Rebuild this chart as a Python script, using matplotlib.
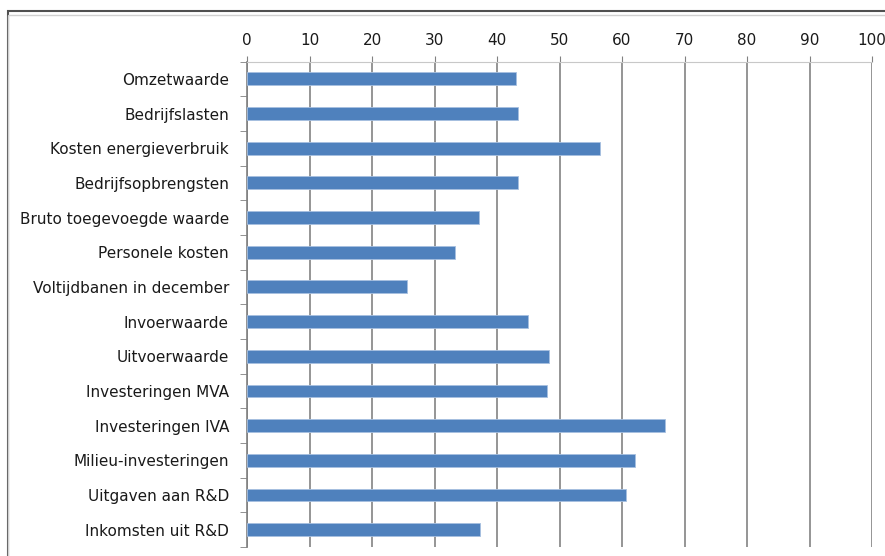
import matplotlib.pyplot as plt
import numpy as np
from matplotlib.patches import Rectangle

categories = ['Omzetwaarde', 'Bedrijfslasten', 'Kosten energieverbruik',
              'Bedrijfsopbrengsten', 'Bruto toegevoegde waarde', 'Personele kosten',
              'Voltijdbanen in december', 'Invoerwaarde', 'Uitvoerwaarde',
              'Investeringen MVA', 'Investeringen IVA', 'Milieu-investeringen',
              'Uitgaven aan R&D', 'Inkomsten uit R&D']
values = [43.0, 43.3, 56.5, 43.3, 37.1, 33.2, 25.6, 45.0, 48.3, 48.0, 66.8, 62.0, 60.6, 37.3]
xticks = list(range(0, 101, 10))

fig = plt.figure(figsize=(8.85, 5.56), dpi=100)
ax = fig.add_axes([247/885, 1-547/556, (872-247)/885, (547-61.5)/556])

y = np.arange(len(categories))
ax.barh(y, values, height=0.37, color='#4F81BD', edgecolor='#A7C0E0', linewidth=0.6, zorder=3)

ax.set_xlim(0, 100)
ax.set_ylim(len(categories)-0.5, -0.5)
ax.set_xticks(xticks)
ax.xaxis.tick_top()
ax.tick_params(axis='x', direction='out', length=4, color='#808080', labelsize=11,
               labelcolor='#1a1a1a', pad=6)
ax.set_yticks(y)
ax.set_yticklabels(categories)
ax.tick_params(axis='y', which='major', length=0, labelsize=11, labelcolor='#1a1a1a', pad=13)
ax.set_yticks(np.arange(-0.5, len(categories)), minor=True)
ax.tick_params(axis='y', which='minor', direction='out', length=5, color='#808080')

ax.grid(axis='x', color='#8c8c8c', linewidth=1.3, zorder=0)
for s in ['right', 'bottom']:
    ax.spines[s].set_visible(False)
ax.spines['top'].set_color('#c8c8c8')
ax.spines['left'].set_color('#808080')
ax.spines['left'].set_linewidth(1.2)

# outer chart frame (cut off at right and bottom)
fig.patches.append(Rectangle((8/885, -0.05), 1.2, 1 - 11/556 + 0.05, transform=fig.transFigure,
                             fill=False, edgecolor='#505050', linewidth=1.5))
fig.patches.append(Rectangle((8/885, -0.05), 1.2, 1 - 15/556 + 0.05, transform=fig.transFigure,
                             fill=False, edgecolor='#d0d0d0', linewidth=1.0))

fig.savefig('out.png', dpi=100)
